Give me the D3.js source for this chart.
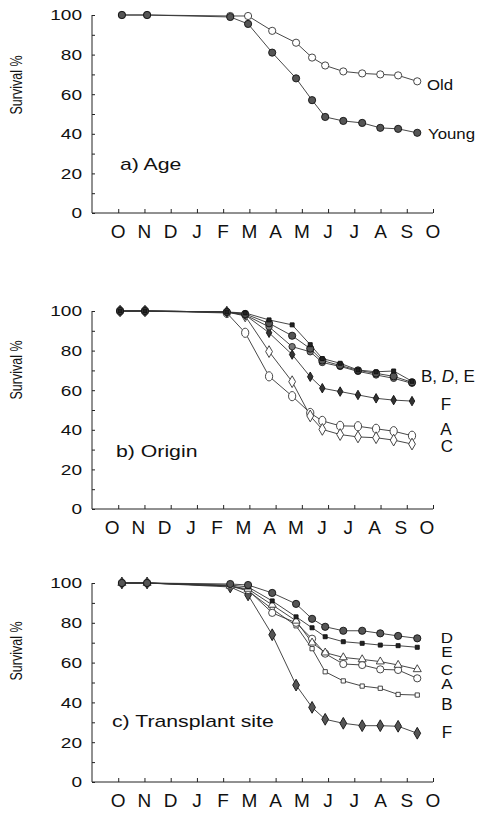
<!DOCTYPE html>
<html>
<head>
<meta charset="utf-8">
<title>Survival</title>
<script src="https://d3js.org/d3.v7.min.js"></script>
<style>
  body { margin: 0; background: #fff; }
  text { font-family: "Liberation Sans", Arial, sans-serif; fill: #111; }
</style>
</head>
<body>
<div id="container"></div>
<script>
// month labels sit on ticks 1..13 (axis starts one month earlier)
const months = ["O", "N", "D", "J", "F", "M", "A", "M", "J", "J", "A", "S", "O"];
const yTickValues = [0, 20, 40, 60, 80, 100];

// sampling dates, in months from the start of the axis
const timesAge = [1.14, 2.10, 5.27, 5.95, 6.87, 7.78, 8.39, 8.89, 9.58, 10.30, 10.99, 11.67, 12.40];
const timesOrigin = [1.07, 2.02, 5.14, 5.84, 6.75, 7.63, 8.32, 8.78, 9.46, 10.14, 10.83, 11.50, 12.20];
const timesSite = [1.14, 2.10, 5.27, 5.95, 6.87, 7.78, 8.39, 8.89, 9.58, 10.30, 10.99, 11.67, 12.40];

// a) Age
const ageOld = [100, 100, 99.5, 99.5, 92, 86, 78.5, 74.5, 71.5, 70.5, 70, 69.5, 66.5];
const ageYoung = [100, 100, 99, 95.5, 81, 68, 57, 48.5, 46.5, 45.5, 43, 42.5, 40.5];

// b) Origin
const originA = [100, 100, 99, 89, 67, 57, 48.5, 44.5, 42, 41.8, 40.5, 39.3, 37];
const originB = [100, 100, 99.5, 98.5, 93.8, 87.5, 81, 75, 72.5, 70, 68.5, 67, 64];
const originC = [100, 100, 99.5, 97.5, 79.5, 64.3, 47, 40.2, 37.6, 36.4, 36, 34.8, 32.8];
const originD = [100, 100, 99.5, 99, 95.5, 93, 83, 76, 73.6, 70.2, 69.3, 69.7, 64.5];
const originE = [100, 100, 99.5, 98, 92, 82, 79.4, 74, 72, 69.5, 67.7, 66, 63.5];
const originF = [100, 100, 99.5, 98, 89, 78, 66.8, 61, 59.3, 57.6, 55.9, 55, 54.5];

// c) Transplant site
const siteA = [100, 100, 98.5, 96.5, 85, 80, 72, 64.5, 59.3, 58.8, 56.6, 56.3, 52.1];
const siteB = [100, 100, 98.5, 96, 87, 78.5, 67, 55.4, 50.8, 48.2, 47.1, 44, 43.7];
const siteC = [100, 100, 98.5, 97, 89, 81, 70, 65, 62.6, 61.6, 60.5, 58.8, 56.6];
const siteD = [100, 100, 99.5, 99, 95, 89.5, 82, 78, 76, 76, 74.7, 73.4, 72.2];
const siteE = [100, 100, 99, 98, 91, 83, 77.5, 73, 70.5, 69.7, 68.8, 68.5, 67.7];
const siteF = [100, 100, 98, 94, 74, 48.7, 37.5, 31.5, 29.5, 28.3, 28.3, 28, 24.5];

const width = 479, height = 814;
const xLeft = 92, xRight = 433;

const panels = [
    { top: 15, bottom: 213, ylabY: 85, title: "a) Age", titleX: 120, titleY: 170, monthDx: 0, times: timesAge,
      series: [
        { values: ageOld, marker: "openCircle", label: "Old", lx: 427, ly: 90, size: 15, sx: 1.12, anchor: "start" },
        { values: ageYoung, marker: "filledCircle", label: "Young", lx: 428, ly: 139, size: 15, sx: 1.12, anchor: "start" }
      ] },
    { top: 311, bottom: 509, ylabY: 370, title: "b) Origin", titleX: 116, titleY: 457, monthDx: -6, times: timesOrigin,
      series: [
        { values: originA, marker: "openEllipse", label: "A", lx: 446, ly: 435 },
        { values: originC, marker: "openDiamond", label: "C", lx: 447, ly: 452 },
        { values: originF, marker: "smallDiamond", label: "F", lx: 446, ly: 410 },
        { values: originE, marker: "greyCircle" },
        { values: originB, marker: "filledCircle" },
        { values: originD, marker: "filledSquare", label: ["B, ", "D", ", E"], lx: 421, ly: 382, anchor: "start" }
      ] },
    { top: 583, bottom: 782, ylabY: 651, title: "c) Transplant site", titleX: 112, titleY: 727, monthDx: 0, times: timesSite,
      series: [
        { values: siteF, marker: "filledDiamond", label: "F", lx: 447, ly: 738 },
        { values: siteB, marker: "openSquare", label: "B", lx: 447, ly: 710 },
        { values: siteA, marker: "openCircle", label: "A", lx: 447, ly: 689, sy: 0.85 },
        { values: siteC, marker: "openTriangle", label: "C", lx: 447, ly: 675, sy: 0.85 },
        { values: siteE, marker: "filledSquare", label: "E", lx: 447, ly: 657, sy: 0.85 },
        { values: siteD, marker: "filledCircle", label: "D", lx: 447, ly: 643, sy: 0.85 }
      ] }
];

const svg = d3.select("#container").append("svg")
    .attr("width", width)
    .attr("height", height);

const x = d3.scaleLinear().domain([0, 13]).range([xLeft, xRight]);

function drawMarker(g, type, cx, cy) {
    const sym = (t, s) => d3.symbol().type(t).size(s)();
    let m;
    if (type === "openCircle") {
        m = g.append("circle").attr("r", 3.6).attr("fill", "#fff").attr("stroke", "#333");
    } else if (type === "openEllipse") {
        m = g.append("ellipse").attr("rx", 3.6).attr("ry", 4.6).attr("fill", "#fff").attr("stroke", "#333");
    } else if (type === "filledCircle") {
        m = g.append("circle").attr("r", 3.6).attr("fill", "#555").attr("stroke", "#111");
    } else if (type === "greyCircle") {
        m = g.append("circle").attr("r", 3.2).attr("fill", "#777").attr("stroke", "#222");
    } else if (type === "openDiamond") {
        m = g.append("path").attr("d", sym(d3.symbolDiamond, 40)).attr("fill", "#fff").attr("stroke", "#333");
    } else if (type === "smallDiamond") {
        m = g.append("path").attr("d", sym(d3.symbolDiamond, 26)).attr("fill", "#333").attr("stroke", "#111");
    } else if (type === "filledDiamond") {
        m = g.append("path").attr("d", sym(d3.symbolDiamond, 40)).attr("fill", "#555").attr("stroke", "#111");
    } else if (type === "filledSquare") {
        m = g.append("path").attr("d", sym(d3.symbolSquare, 16)).attr("fill", "#222").attr("stroke", "#111");
    } else if (type === "openSquare") {
        m = g.append("path").attr("d", sym(d3.symbolSquare, 18)).attr("fill", "#fff").attr("stroke", "#333");
    } else if (type === "openTriangle") {
        m = g.append("path").attr("d", sym(d3.symbolTriangle, 28)).attr("fill", "#fff").attr("stroke", "#333");
    }
    m.attr("transform", `translate(${cx},${cy})`).attr("stroke-width", 0.9);
}

panels.forEach(p => {
    const y = d3.scaleLinear().domain([0, 100]).range([p.bottom, p.top]);
    const g = svg.append("g");

    // y axis, ticks every 10 pointing inward
    g.append("g")
        .attr("transform", `translate(${xLeft},0)`)
        .call(d3.axisRight(y).tickValues(d3.range(0, 101, 10)).tickSize(3).tickFormat(""))
        .call(a => a.select(".domain").attr("d", `M0,${p.top}V${p.bottom}`));

    // x axis, ticks at month boundaries pointing up
    g.append("g")
        .attr("transform", `translate(0,${p.bottom})`)
        .call(d3.axisTop(x).tickValues(d3.range(1, 14)).tickSize(4).tickFormat(""))
        .call(a => a.select(".domain").attr("d", `M${xLeft},0H${xRight}`));

    g.selectAll(".tick line, .domain").attr("stroke", "#222").attr("stroke-width", 1);

    // y tick labels
    yTickValues.forEach(v => {
        g.append("text")
            .attr("transform", `translate(82,${y(v)}) scale(1.27,1)`)
            .attr("text-anchor", "end")
            .attr("dy", "0.36em")
            .attr("font-size", 15)
            .text(v);
    });

    // month labels
    months.forEach((mo, i) => {
        g.append("text")
            .attr("x", x(i + 1) + p.monthDx)
            .attr("y", p.bottom + 25)
            .attr("text-anchor", "middle")
            .attr("font-size", 19)
            .text(mo);
    });

    g.append("text")
        .attr("transform", `translate(22,${p.ylabY}) rotate(-90) scale(1,1.3)`)
        .attr("text-anchor", "middle")
        .attr("font-size", 12.5)
        .text("Survival %");

    g.append("text")
        .attr("transform", `translate(${p.titleX},${p.titleY}) scale(1.25,1)`)
        .attr("font-size", 17)
        .text(p.title);

    const line = d3.line()
        .x((d, i) => x(p.times[i]))
        .y(d => y(d));

    p.series.forEach(s => {
        g.append("path")
            .datum(s.values)
            .attr("fill", "none")
            .attr("stroke", "#333")
            .attr("stroke-width", 0.9)
            .attr("d", line);
    });
    p.series.forEach(s => {
        s.values.forEach((v, i) => drawMarker(g, s.marker, x(p.times[i]), y(v)));
        if (s.label) {
            const t = g.append("text")
                .attr("transform", `translate(${s.lx},${s.ly}) scale(${s.sx || 1},${s.sy || 1})`)
                .attr("text-anchor", s.anchor || "middle")
                .attr("font-size", s.size || 17);
            if (Array.isArray(s.label)) {
                s.label.forEach((part, k) => {
                    t.append("tspan").attr("font-style", k === 1 ? "italic" : "normal").text(part);
                });
            } else {
                t.text(s.label);
            }
        }
    });
});
</script>
</body>
</html>
